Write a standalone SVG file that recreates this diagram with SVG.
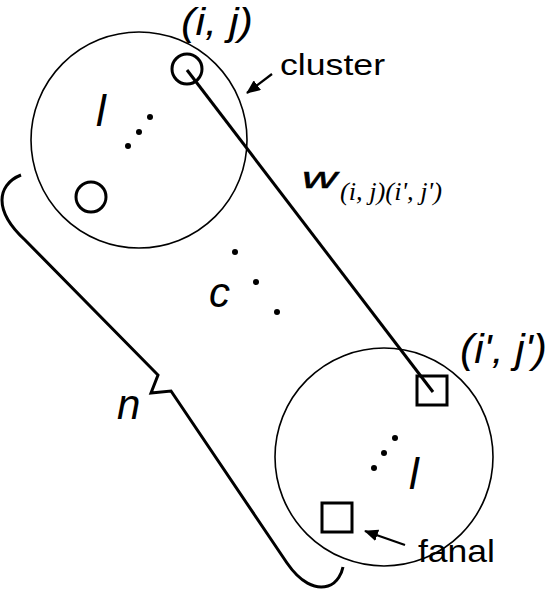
<svg xmlns="http://www.w3.org/2000/svg" width="548" height="590" viewBox="0 0 548 590">
<defs>
<style>
.big{fill:none;stroke:#000;stroke-width:1.6}
.nd{fill:none;stroke:#000;stroke-width:3}
.ln{fill:none;stroke:#000;stroke-width:3}
.thin{fill:none;stroke:#000;stroke-width:2.2}
.dot{fill:#000}
.it{font-family:"Liberation Sans",Arial,sans-serif;font-style:italic;fill:#000}
.rm{font-family:"Liberation Sans",Arial,sans-serif;fill:#000}
.sub{font-family:"Liberation Serif","Times New Roman",serif;font-style:italic;fill:#000}
</style>
<marker id="ah" markerWidth="14" markerHeight="12" refX="13" refY="6" orient="auto" markerUnits="userSpaceOnUse">
<path d="M0,0 L14,6 L0,12 Z" fill="#000"/>
</marker>
</defs>
<rect width="548" height="590" fill="#fff"/>
<g id="cluster-top">
<circle class="big" cx="139" cy="140" r="108"/>
<text class="it" x="96" y="126" font-size="44">l</text>
<circle class="dot" cx="150" cy="117" r="3"/>
<circle class="dot" cx="139" cy="132" r="3"/>
<circle class="dot" cx="128" cy="146" r="3"/>
</g>
<g id="node-ij">
<circle class="nd" cx="187" cy="69" r="15"/>
<text class="it" x="181" y="35" font-size="38" textLength="72" lengthAdjust="spacingAndGlyphs">(i, j)</text>
</g>
<g id="node-lower">
<circle class="nd" cx="91" cy="197" r="15"/>
</g>
<g id="dots-c">
<circle class="dot" cx="235" cy="252" r="3"/>
<circle class="dot" cx="256" cy="282" r="3"/>
<circle class="dot" cx="277" cy="312" r="3"/>
<text class="it" x="209" y="307" font-size="42">c</text>
</g>
<g id="cluster-bottom">
<circle class="big" cx="384" cy="457" r="109"/>
<text class="it" x="409" y="489" font-size="44">l</text>
<circle class="dot" cx="395" cy="438" r="3"/>
<circle class="dot" cx="384" cy="453" r="3"/>
<circle class="dot" cx="374" cy="468" r="3"/>
</g>
<g id="node-i2j2">
<rect class="nd" x="417" y="376" width="30" height="29"/>
<text class="it" x="460" y="363" font-size="40" textLength="87" lengthAdjust="spacingAndGlyphs">(i', j')</text>
</g>
<g id="node-fanal">
<rect class="nd" x="322" y="503" width="30" height="29"/>
</g>
<g id="labels">
<text class="rm" x="280" y="75" font-size="30" textLength="105" lengthAdjust="spacingAndGlyphs">cluster</text>
<text class="rm" x="418" y="562" font-size="32" textLength="77" lengthAdjust="spacingAndGlyphs">fanal</text>
<text class="it" x="302" y="188" font-size="30" stroke="#000" stroke-width="0.5" textLength="35" lengthAdjust="spacingAndGlyphs">w</text>
<text class="sub" x="340" y="200" font-size="25" textLength="102" lengthAdjust="spacingAndGlyphs">(i, j)(i', j')</text>
<text class="it" x="117" y="419" font-size="42">n</text>
</g>
<g id="connectors">
<line class="ln" x1="187" y1="70" x2="433" y2="392"/>
<line class="thin" x1="272" y1="74" x2="247" y2="93" marker-end="url(#ah)"/>
<line class="thin" x1="405" y1="545" x2="365" y2="531" marker-end="url(#ah)"/>
<path class="ln" d="M21,175 C8,180 2,190 2,200 C2,215 12,228 25,240 L158,375 L151,393 L171,391 L287,563 C300,582 315,590 328,586 C338,583 342,572 343,567"/>
</g>
</svg>
